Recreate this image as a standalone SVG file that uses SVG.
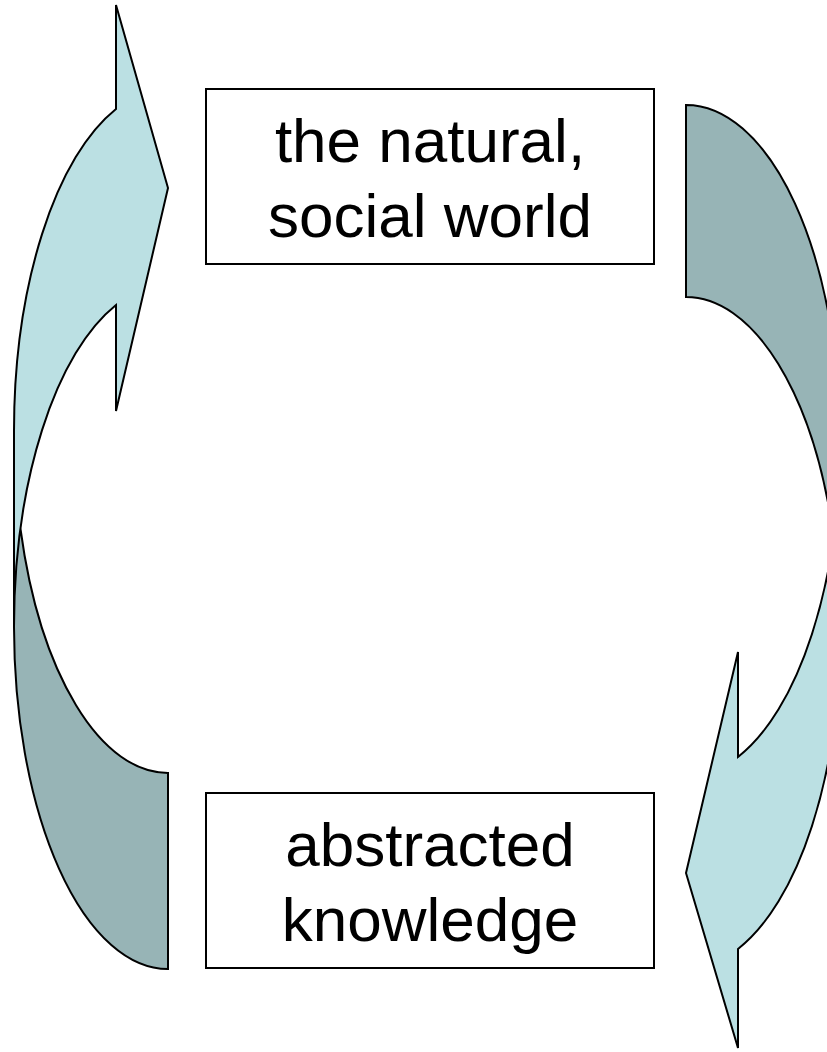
<svg xmlns="http://www.w3.org/2000/svg" width="827" height="1052" viewBox="0 0 827 1052">
<style>
.light{fill:#BBE0E3;stroke:none}
.dark{fill:#97B4B6;stroke:none}
.outline{fill:none;stroke:#000;stroke-width:2;stroke-linejoin:miter}
.box{fill:#fff;stroke:#000;stroke-width:2}
.lbl{font-family:"Liberation Sans",Arial,sans-serif;font-size:62px;fill:#000;text-anchor:middle}
</style>
<rect width="827" height="1052" fill="#fff"/>
<g id="connectors">
  <g id="arrow-left">
    <path class="light" d="M 14 627 A 154 342 0 0 1 116 305 L 116 411 L 168 188 L 116 5 L 116 109 A 154 342 0 0 0 14 431 Z"/>
    <path class="dark" d="M 20.5 529 A 154 342 0 0 0 168 969 L 168 773 A 154 342 0 0 1 20.5 529 Z"/>
    <path class="outline" d="M 14 627 A 154 342 0 0 1 116 305 L 116 411 L 168 188 L 116 5 L 116 109 A 154 342 0 0 0 14 431 L 14 627 A 154 342 0 0 0 168 969 L 168 773 A 154 342 0 0 1 20.5 529"/>
  </g>
  <g id="arrow-right">
    <path class="light" d="M 840 441 A 154 336 0 0 1 738 757 L 738 652 L 686 873 L 738 1048 L 738 949 A 154 336 0 0 0 840 633 Z"/>
    <path class="dark" d="M 686 105 A 154 336 0 0 1 833.6 537 A 154 336 0 0 0 686 297 Z"/>
    <path class="outline" d="M 840 441 A 154 336 0 0 1 738 757 L 738 652 L 686 873 L 738 1048 L 738 949 A 154 336 0 0 0 840 633 L 840 441 A 154 336 0 0 0 686 105 L 686 297 A 154 336 0 0 1 833.6 537"/>
  </g>
</g>
<g id="node-world">
  <rect class="box" x="206" y="89" width="448" height="175"/>
  <text class="lbl" x="430" y="162">the natural,</text>
  <text class="lbl" x="430" y="237">social world</text>
</g>
<g id="node-knowledge">
  <rect class="box" x="206" y="793" width="448" height="175"/>
  <text class="lbl" x="430" y="866">abstracted</text>
  <text class="lbl" x="430" y="941">knowledge</text>
</g>
</svg>
